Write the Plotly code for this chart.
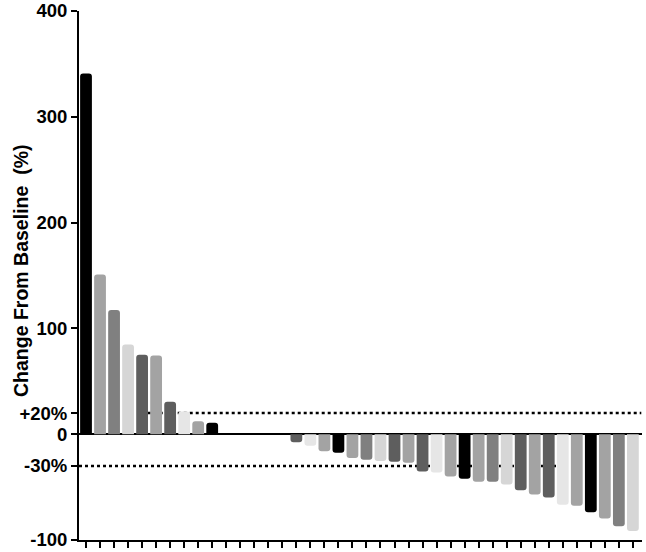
import plotly.graph_objects as go

# ---- data ----
patients = list(range(1, 41))
change_pct = [341, 151, 117.5, 84.7, 75.2, 74.3, 30.7, 21.5, 12.3, 10.8,
              0, 0, 0, 0, 0,
              -7.7, -10.9, -16.2, -17.5, -22.5, -24.1, -25.4, -26, -27, -35.2,
              -36.1, -39.9, -42.1, -44.9, -45, -47.5, -52.9, -57, -59.8, -66.7,
              -67.6, -73.7, -79.7, -86.9, -91.4]
y_tickvals = [-100, -30, 0, 20, 100, 200, 300, 400]
y_ticktext = ["-100", "-30%", "0", "+20%", "100", "200", "300", "400"]
y_title = "Change From Baseline  (%)"
progression_threshold = 20
response_threshold = -30

palette = ["#000000", "#a3a3a3", "#808080", "#d6d6d6", "#5e5e5e",
           "#a3a3a3", "#5e5e5e", "#e6e6e6", "#a3a3a3"]
bar_colors = [palette[i % len(palette)] for i in range(len(patients))]
xpos = list(range(len(patients)))

W, H = 646, 552
ML, MR, MT, MB = 79, 4, 11, 12
plot_w = W - ML - MR
plot_h = H - MT - MB

fig = go.Figure()
fig.add_trace(go.Bar(
    x=xpos, y=change_pct,
    marker=dict(color=bar_colors, line=dict(width=0), cornerradius=3),
    width=0.84,
    showlegend=False,
))

# reference lines
fig.add_shape(type="line", xref="x", yref="y", layer="below",
              x0=4.4, x1=39.6, y0=progression_threshold, y1=progression_threshold,
              line=dict(color="black", width=2.5, dash="dot"))
fig.add_shape(type="line", xref="x", yref="y", layer="below",
              x0=-0.5, x1=34.4, y0=response_threshold, y1=response_threshold,
              line=dict(color="black", width=2.5, dash="dot"))

font_family = "Liberation Sans, Arial, sans-serif"

fig.add_annotation(
    text=y_title, textangle=-90, showarrow=False,
    xref="paper", yref="paper",
    x=(21 - ML) / plot_w, y=(H - MB - 271) / plot_h,
    xanchor="center", yanchor="middle",
    font=dict(size=19.5, weight="bold", family=font_family, color="black"),
)

fig.update_layout(
    width=W, height=H,
    margin=dict(l=ML, r=MR, t=MT, b=MB),
    plot_bgcolor="white", paper_bgcolor="white",
    font=dict(family=font_family, color="black"),
    xaxis=dict(
        range=[-0.5, 39.65],
        tickmode="array", tickvals=xpos,
        showticklabels=False,
        ticks="outside", ticklen=6, tickwidth=2, tickcolor="black",
        showline=True, linecolor="black", linewidth=2,
        showgrid=False, zeroline=False, automargin=False,
    ),
    yaxis=dict(
        range=[-100, 400],
        tickmode="array", tickvals=y_tickvals, ticktext=y_ticktext,
        ticks="outside", ticklen=6, tickwidth=2, tickcolor="black",
        tickfont=dict(size=18.5, weight="bold", family=font_family),
        showline=True, linecolor="black", linewidth=2,
        showgrid=False, automargin=False,
        zeroline=True, zerolinecolor="black", zerolinewidth=2,
    ),
)

fig.write_html("out.html", config={"displayModeBar": False},
               post_script="document.body.style.margin='0';")
